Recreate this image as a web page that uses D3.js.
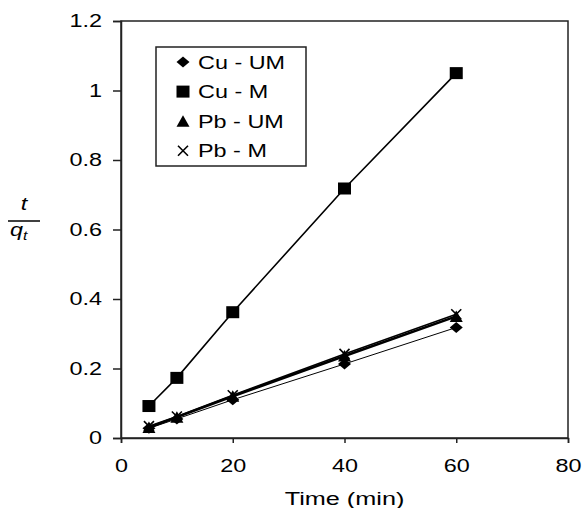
<!DOCTYPE html>
<html>
<head>
<meta charset="utf-8">
<script src="https://cdn.jsdelivr.net/npm/d3@7/dist/d3.min.js"></script>
<style>
  body { margin: 0; background: #fff; }
  text { font-family: "Liberation Sans", Arial, sans-serif; fill: #000; }
</style>
</head>
<body>
<div id="chart"></div>
<script>
// data
let times = [5, 10, 20, 40, 60];
let cuUM = [0.028, 0.055, 0.11, 0.213, 0.318];
let cuM = [0.092, 0.173, 0.362, 0.718, 1.05];
let pbUM = [0.03, 0.06, 0.12, 0.236, 0.35];
let pbM = [0.034, 0.062, 0.123, 0.242, 0.356];
let seriesNames = ["Cu - UM", "Cu - M", "Pb - UM", "Pb - M"];
let xTicks = [0, 20, 40, 60, 80];
let yTicks = [0, 0.2, 0.4, 0.6, 0.8, 1, 1.2];

let W = 582, H = 508;
let margin = { top: 21, right: 14, bottom: 70, left: 121 };
let width = W - margin.left - margin.right;
let height = H - margin.top - margin.bottom;
let SX = 1.3; // the source text is stretched sideways

let svg = d3.select('#chart').append('svg')
    .attr('width', W)
    .attr('height', H);

let g = svg.append('g')
    .attr('transform', "translate(" + margin.left + "," + margin.top + ")");

let x = d3.scaleLinear().domain([0, 80]).range([0, width]);
let y = d3.scaleLinear().domain([0, 1.2]).range([height, 0]);

// frame
g.append('rect')
    .attr('width', width)
    .attr('height', height)
    .attr('fill', 'none')
    .attr('stroke', '#222')
    .attr('stroke-width', 1.5);

let xAxis = g.append('g')
    .attr('transform', "translate(0," + height + ")")
    .call(d3.axisBottom(x).tickValues(xTicks).tickSize(5).tickPadding(16).tickFormat(d3.format('d')));

let yAxis = g.append('g')
    .call(d3.axisLeft(y).tickValues(yTicks).tickSize(8).tickFormat(function (d) { return d3.format('')(+d.toFixed(1)); }));

[xAxis, yAxis].forEach(function (a) {
    a.select('.domain').attr('stroke', '#222').attr('stroke-width', 1.5);
    a.selectAll('.tick line').attr('stroke', '#222').attr('stroke-width', 1.5);
    a.selectAll('.tick text')
        .attr('font-size', '18px')
        .attr('font-family', '"Liberation Sans", Arial, sans-serif')
        .attr('fill', '#000');
});
xAxis.selectAll('.tick text').attr('transform', 'scale(' + SX + ',1)');
yAxis.selectAll('.tick text')
    .attr('x', -19 / SX)
    .attr('transform', 'scale(' + SX + ',1)');

// series lines
let allSeries = [
    { name: seriesNames[0], values: cuUM, lw: 1, shape: 'diamond' },
    { name: seriesNames[1], values: cuM, lw: 1.6, shape: 'square' },
    { name: seriesNames[2], values: pbUM, lw: 2.6, shape: 'triangle' },
    { name: seriesNames[3], values: pbM, lw: 1.6, shape: 'cross' }
];

let line = d3.line()
    .x(function (d) { return x(d.t); })
    .y(function (d) { return y(d.v); });

function pts(s) {
    return times.map(function (t, i) { return { t: t, v: s.values[i] }; });
}

function drawMarker(sel, shape) {
    if (shape === 'square') {
        sel.append('rect').attr('x', -6.5).attr('y', -6).attr('width', 13).attr('height', 12).attr('fill', '#000');
    } else if (shape === 'diamond') {
        sel.append('path').attr('d', 'M-6.5,0L0,-5.5L6.5,0L0,5.5Z').attr('fill', '#000');
    } else if (shape === 'triangle') {
        sel.append('path').attr('d', 'M-6.5,5.5L0,-6L6.5,5.5Z').attr('fill', '#000');
    } else {
        sel.append('path').attr('d', 'M-5,-5L5,5M-5,5L5,-5').attr('stroke', '#000').attr('stroke-width', 1.6).attr('fill', 'none');
    }
}

allSeries.forEach(function (s) {
    g.append('path')
        .datum(pts(s))
        .attr('d', line)
        .attr('fill', 'none')
        .attr('stroke', '#000')
        .attr('stroke-width', s.lw);
});

allSeries.forEach(function (s) {
    g.selectAll(null)
        .data(pts(s))
        .enter()
        .append('g')
            .attr('transform', function (d) { return "translate(" + x(d.t) + "," + y(d.v) + ")"; })
            .each(function () { drawMarker(d3.select(this), s.shape); });
});

// legend
let legend = svg.append('g').attr('transform', 'translate(156,47)');
legend.append('rect')
    .attr('width', 150)
    .attr('height', 119)
    .attr('fill', '#fff')
    .attr('stroke', '#222')
    .attr('stroke-width', 1.5);

allSeries.forEach(function (s, i) {
    let row = legend.append('g').attr('transform', 'translate(0,' + (15 + i * 29.6) + ')');
    let m = row.append('g').attr('transform', 'translate(27,0)');
    drawMarker(m, s.shape);
    row.append('text')
        .attr('transform', 'translate(42,6.5) scale(' + SX + ',1)')
        .attr('font-size', '18px')
        .text(s.name);
});

// x label
svg.append('text')
    .attr('transform', 'translate(' + (margin.left + width / 2) + ',505) scale(1.33,1)')
    .attr('text-anchor', 'middle')
    .attr('font-size', '19px')
    .text('Time (min)');

// y label: t / q_t
let yl = svg.append('g');
yl.append('text')
    .attr('transform', 'translate(24,210) scale(' + SX + ',1)')
    .attr('text-anchor', 'middle')
    .attr('font-size', '18px')
    .attr('font-style', 'italic')
    .text('t');
yl.append('line')
    .attr('x1', 8).attr('x2', 40)
    .attr('y1', 221).attr('y2', 221)
    .attr('stroke', '#000')
    .attr('stroke-width', 1.5);
let q = yl.append('text')
    .attr('transform', 'translate(10,236) scale(' + SX + ',1)')
    .attr('font-size', '18px')
    .attr('font-style', 'italic');
q.append('tspan').text('q');
q.append('tspan').attr('font-size', '12px').attr('dy', 4).text('t');
</script>
</body>
</html>
